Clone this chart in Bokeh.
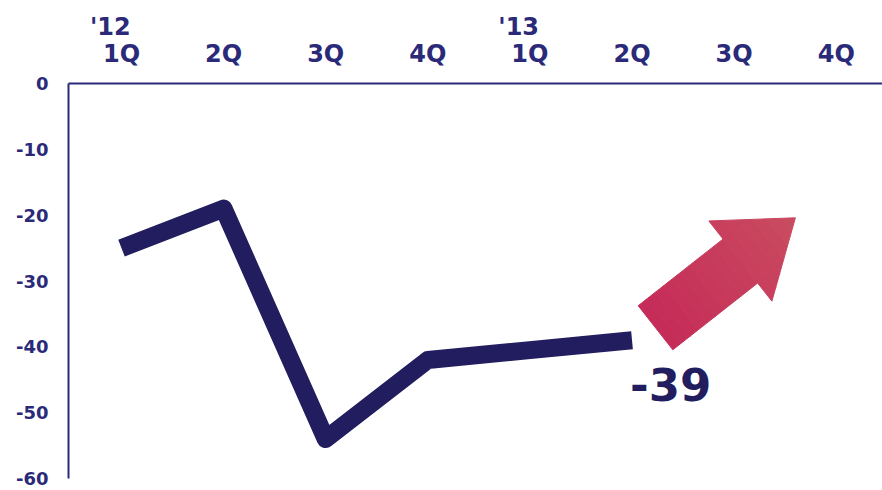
import numpy as np
from bokeh.plotting import figure
from bokeh.models import Range1d, LinearAxis, FixedTicker
from bokeh.core.properties import value
from bokeh.embed import file_html
from bokeh.resources import INLINE

# ---- data ----
quarter_labels = ["1Q", "2Q", "3Q", "4Q", "1Q", "2Q", "3Q", "4Q"]
year_labels = ["'12", "'13"]
year_ticks = [0, 4]
line_x = [0, 1, 2, 3, 4, 5]
line_y = [-25, -19, -54, -42, -40.5, -39]
y_ticks = [0, -10, -20, -30, -40, -50, -60]
y_tick_labels = ["0", "-10", "-20", "-30", "-40", "-50", "-60"]
last_value_label = "-39"
arrow_start = (5.23, -37.1)
arrow_end = (6.60, -20.4)

NAVY = "#211d5e"
LABEL = "#2b2a78"
FONT = "DejaVu Sans"

X0, X1 = -0.519, 7.453
Y0, Y1 = -60, 0
W, H = 882, 490
BL, BR, BT, BB = 68, 0, 83, 12

p = figure(width=W, height=H, output_backend="svg", toolbar_location=None,
           x_range=Range1d(X0, X1), y_range=Range1d(Y0, Y1),
           x_axis_location=None, y_axis_location=None,
           min_border_left=BL, min_border_right=BR,
           min_border_top=BT, min_border_bottom=BB)
p.outline_line_color = None
p.xgrid.visible = False
p.ygrid.visible = False
p.background_fill_color = "white"

# left axis
ya = LinearAxis(ticker=FixedTicker(ticks=y_ticks))
ya.major_label_overrides = {t: s for t, s in zip(y_ticks, y_tick_labels)}
ya.axis_line_color = LABEL
ya.axis_line_width = 2
ya.major_tick_line_color = None
ya.major_tick_out = 0
ya.major_tick_in = 0
ya.minor_tick_line_color = None
ya.major_label_text_font = FONT
ya.major_label_text_font_size = "18px"
ya.major_label_text_font_style = "bold"
ya.major_label_text_color = LABEL
ya.major_label_standoff = 20
p.add_layout(ya, "left")

# top axis with quarters
qa = LinearAxis(ticker=FixedTicker(ticks=list(range(len(quarter_labels)))))
qa.major_label_overrides = {i: s for i, s in enumerate(quarter_labels)}
qa.axis_line_color = LABEL
qa.axis_line_width = 2
qa.major_tick_line_color = None
qa.major_tick_out = 0
qa.major_tick_in = 0
qa.minor_tick_line_color = None
qa.major_label_text_font = FONT
qa.major_label_text_font_size = "24px"
qa.major_label_text_font_style = "bold"
qa.major_label_text_color = LABEL
qa.major_label_standoff = 16
p.add_layout(qa, "above")

# year axis (slightly shifted to the left as in the original)
shift = 0.11
p.extra_x_ranges = {"yr": Range1d(X0 + shift, X1 + shift)}
ya2 = LinearAxis(x_range_name="yr", ticker=FixedTicker(ticks=year_ticks))
ya2.major_label_overrides = {t: s for t, s in zip(year_ticks, year_labels)}
ya2.axis_line_color = None
ya2.major_tick_line_color = None
ya2.major_tick_out = 0
ya2.major_tick_in = 0
ya2.minor_tick_line_color = None
ya2.major_label_text_font = FONT
ya2.major_label_text_font_size = "24px"
ya2.major_label_text_font_style = "bold"
ya2.major_label_text_color = LABEL
ya2.major_label_standoff = -4
p.add_layout(ya2, "above")

# main line
p.line(line_x, line_y, line_color=NAVY, line_width=18,
       line_join="round", line_cap="butt")

# value label
p.text(x=[line_x[-1]], y=[line_y[-1]], text=[last_value_label],
       text_font=value(FONT), text_font_style="bold", text_font_size="45px",
       text_color=NAVY, text_align="left", text_baseline="middle",
       x_offset=-2, y_offset=44)

# arrow with gradient (built in pixel space, converted to data units)
fw = W - BL - BR
fh = H - BT - BB
sx = fw / (X1 - X0)
sy = fh / (Y1 - Y0)
vx = (arrow_end[0] - arrow_start[0]) * sx
vy = (arrow_end[1] - arrow_start[1]) * sy
L = np.hypot(vx, vy)
u = np.array([vx, vy]) / L
n = np.array([-u[1], u[0]])
shaft_w, head_w, head_len = 56.0, 102.0, 70.0
Ls = L - head_len

c0 = np.array([0xc5, 0x2b, 0x57])
c1 = np.array([0xc9, 0x4c, 0x60])

def to_data(pts):
    xs = [arrow_start[0] + q[0] / sx for q in pts]
    ys = [arrow_start[1] + q[1] / sy for q in pts]
    return xs, ys

def col(t):
    c = c0 + (c1 - c0) * (t / L)
    return "#%02x%02x%02x" % tuple(int(round(v)) for v in c)

xs_all, ys_all, cols = [], [], []
ns = 10
for i in range(ns):
    t0, t1 = Ls * i / ns, Ls * (i + 1) / ns
    pts = [t0 * u + n * shaft_w / 2, t1 * u + n * shaft_w / 2,
           t1 * u - n * shaft_w / 2, t0 * u - n * shaft_w / 2]
    xs, ys = to_data(pts)
    xs_all.append(xs); ys_all.append(ys); cols.append(col((t0 + t1) / 2))
nh = 6
for i in range(nh):
    t0 = Ls + head_len * i / nh
    t1 = Ls + head_len * (i + 1) / nh
    w0 = head_w * (L - t0) / head_len / 2
    w1 = head_w * (L - t1) / head_len / 2
    pts = [t0 * u + n * w0, t1 * u + n * w1, t1 * u - n * w1, t0 * u - n * w0]
    xs, ys = to_data(pts)
    xs_all.append(xs); ys_all.append(ys); cols.append(col((t0 + t1) / 2))

p.patches(xs_all, ys_all, fill_color=cols, line_color=cols, line_width=1)

open("out.html", "w").write(file_html(p, INLINE))
